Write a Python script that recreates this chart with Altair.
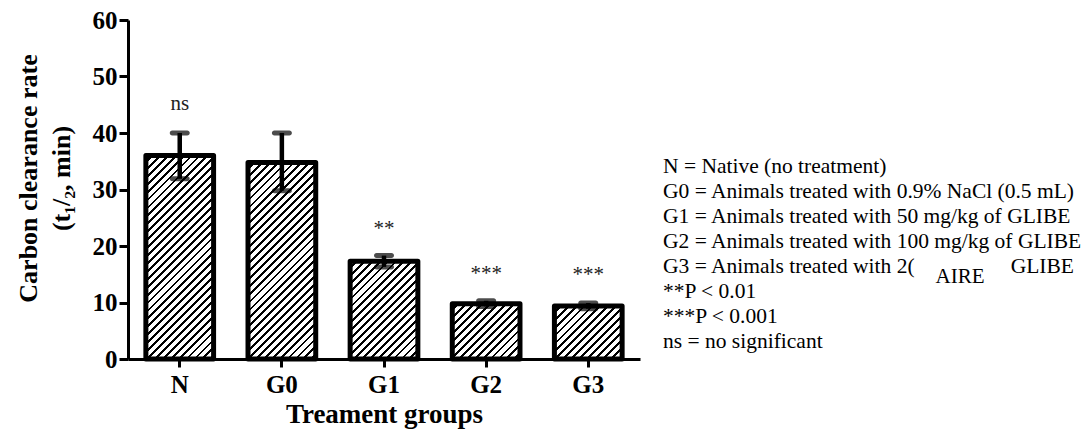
import math
import altair as alt
import pandas as pd

# ---------------- data ----------------
groups = ["N", "G0", "G1", "G2", "G3"]
means = [36.0, 34.8, 17.3, 9.8, 9.4]
err_low = [31.9, 29.8, 16.3, 9.3, 8.9]
err_high = [40.0, 40.0, 18.3, 10.3, 9.9]

sig_groups = ["N", "G1", "G2", "G3"]
sig_labels = ["ns", "**", "***", "***"]
sig_values = [44.1, 22.0, 14.0, 13.8]

y_ticks = [0, 10, 20, 30, 40, 50, 60]

notes = [
    "N = Native (no treatment)",
    "G0 = Animals treated with 0.9%  NaCl (0.5 mL)",
    "G1 = Animals treated with 50 mg/kg of GLIBE",
    "G2 = Animals treated with 100 mg/kg of GLIBE",
    "G3 = Animals treated with 2(",
    "**P < 0.01",
    "***P < 0.001",
    "ns = no significant",
]
note_g3_tail = "GLIBE"
note_overlay = "AIRE"

# ---------------- layout / style ----------------
PLOT_W, PLOT_H = 512, 339
Y_MAX = 60
PAD_INNER, PAD_OUTER = 0.337, 0.175
SERIF = "Liberation Serif"

df = pd.DataFrame({"group": groups, "mean": means, "lo": err_low, "hi": err_high})
sig_df = pd.DataFrame({"group": sig_groups, "label": sig_labels, "pos": sig_values})

x_enc = alt.X(
    "group:N",
    sort=groups,
    scale=alt.Scale(paddingInner=PAD_INNER, paddingOuter=PAD_OUTER),
    axis=alt.Axis(
        title="Treament groups",
        labelAngle=0,
        labelFont=SERIF,
        labelFontWeight="bold",
        labelFontSize=25,
        labelColor="black",
        labelPadding=5,
        tickSize=8,
        tickWidth=3,
        tickColor="black",
        domainWidth=3,
        domainColor="black",
        titleFont=SERIF,
        titleFontWeight="bold",
        titleFontSize=27,
        titleColor="black",
        titlePadding=4,
    ),
)
y_enc = alt.Y(
    "mean:Q",
    scale=alt.Scale(domain=[0, Y_MAX], nice=False),
    axis=alt.Axis(
        title=["Carbon clearance rate", "(t\u2081/\u2082, min)"],
        values=y_ticks,
        grid=False,
        labelFont=SERIF,
        labelFontWeight="bold",
        labelFontSize=25,
        labelColor="black",
        labelPadding=2,
        tickSize=9,
        tickWidth=3,
        tickColor="black",
        domainWidth=3,
        domainColor="black",
        titleFont=SERIF,
        titleFontWeight="bold",
        titleFontSize=26,
        titleColor="black",
        titleAngle=-90,
        titleLineHeight=33,
        titleBaseline="top",
        titleAlign="center",
        titleX=-113,
        titleY=158,
    ),
)

# hatch fill: diagonal "/" stripes built as a bounding-box linear gradient
step = PLOT_W / (len(groups) - PAD_INNER + 2 * PAD_OUTER)
band_w = step * (1 - PAD_INNER)
PERIOD, LINE_FRAC = 5.6, 0.36


def hatch(value):
    h = value / Y_MAX * PLOT_H
    r = h / band_w
    a = (1 + r) / (1 + r * r)
    b = a * r
    dt = PERIOD * math.sqrt(2) / (band_w + h)
    stops = []
    k = 0
    while k * dt < 1:
        t0 = k * dt
        t1 = min(1.0, t0 + dt * (1 - LINE_FRAC))
        t2 = min(1.0, t0 + dt)
        stops += [
            {"offset": t0, "color": "white"},
            {"offset": t1, "color": "white"},
            {"offset": t1, "color": "black"},
            {"offset": t2, "color": "black"},
        ]
        k += 1
    return {"gradient": "linear", "x1": 0, "y1": 0, "x2": a, "y2": b, "stops": stops}


base = alt.Chart(df)
layers = []
for g, m in zip(groups, means):
    layers.append(
        base.transform_filter(alt.datum.group == g)
        .mark_bar(fill=hatch(m), stroke="black", strokeWidth=5, strokeJoin="round")
        .encode(x=x_enc, y=y_enc)
    )

err_rule = base.mark_rule(color="black", strokeWidth=4.5).encode(
    x=alt.X("group:N", sort=groups), y="lo:Q", y2="hi:Q"
)
cap_hi = base.mark_tick(color="black", size=20, thickness=5, cornerRadius=2.5).encode(
    x=alt.X("group:N", sort=groups), y="hi:Q"
)
cap_lo = base.mark_tick(color="black", size=20, thickness=5, cornerRadius=2.5).encode(
    x=alt.X("group:N", sort=groups), y="lo:Q"
)

sig = alt.Chart(sig_df).mark_text(
    font=SERIF, fontSize=21, color="#222", baseline="alphabetic", align="center"
).encode(x=alt.X("group:N", sort=groups), y="pos:Q", text="label:N")

notes_df = pd.DataFrame({"txt": ["\n".join(notes)]})
notes_layer = alt.Chart(notes_df).mark_text(
    font=SERIF, fontSize=21.5, color="black", align="left", baseline="alphabetic",
    lineBreak="\n", lineHeight=25,
).encode(x=alt.value(535), y=alt.value(153), text="txt:N")

tail_df = pd.DataFrame({"txt": [note_g3_tail]})
tail_layer = alt.Chart(tail_df).mark_text(
    font=SERIF, fontSize=21.5, color="black", align="right", baseline="alphabetic"
).encode(x=alt.value(946), y=alt.value(253), text="txt:N")

aire_df = pd.DataFrame({"txt": [note_overlay]})
aire_layer = alt.Chart(aire_df).mark_text(
    font=SERIF, fontSize=21, color="black", align="center", baseline="middle"
).encode(x=alt.value(832), y=alt.value(257), text="txt:N")

chart = (
    alt.layer(*layers, err_rule, cap_hi, cap_lo, sig, notes_layer, tail_layer, aire_layer)
    .properties(
        width=PLOT_W,
        height=PLOT_H,
        autosize=alt.AutoSizeParams(type="none"),
        padding={"left": 120, "top": 12, "right": 441, "bottom": 72},
        background="white",
    )
    .configure_view(strokeWidth=0)
)

chart.save("out.html", embed_options={"renderer": "svg", "actions": False})
